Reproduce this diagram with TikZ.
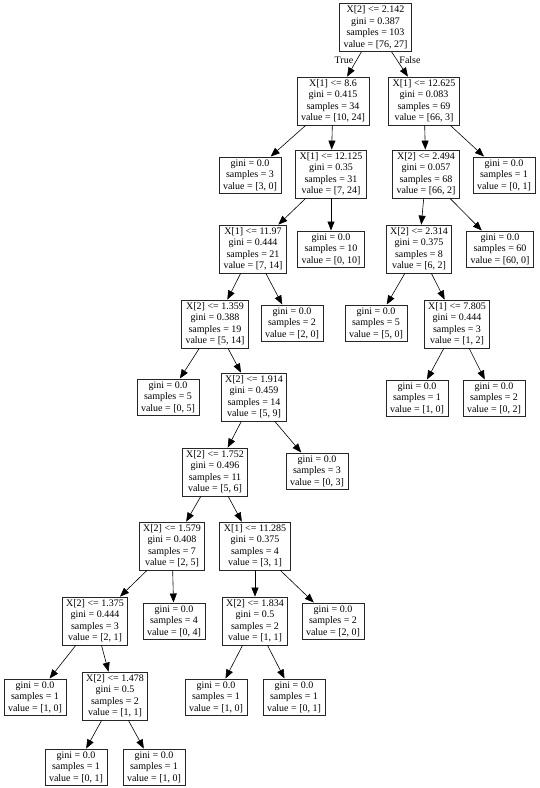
\documentclass[tikz,border=0pt]{standalone}
\usepackage{fontspec}
\setmainfont{Liberation Serif}
\usetikzlibrary{arrows.meta}
\begin{document}
\begin{tikzpicture}[x=1pt,y=-1pt,
  tnode/.style={draw=black!85,line width=0.8pt,fill=white,align=center,
    font=\fontsize{10}{11.5}\selectfont,inner xsep=4pt,inner ysep=2.5pt},
  edge/.style={draw=black,line width=0.6pt,-{Triangle[length=9pt,width=7pt]}},
  elabel/.style={font=\fontsize{10}{11.5}\selectfont}]
\useasboundingbox[fill=white] (0,0) rectangle (540,788);
\node[tnode] (r) at (375.5,27.5) {X[2] <= 2.142\\gini = 0.387\\samples = 103\\value = [76, 27]};
\node[tnode] (a) at (333,101) {X[1] <= 8.6\\gini = 0.415\\samples = 34\\value = [10, 24]};
\node[tnode] (b) at (424,101) {X[1] <= 12.625\\gini = 0.083\\samples = 69\\value = [66, 3]};
\node[tnode] (a1) at (250,175) {gini = 0.0\\samples = 3\\value = [3, 0]};
\node[tnode] (c) at (331,174) {X[1] <= 12.125\\gini = 0.35\\samples = 31\\value = [7, 24]};
\node[tnode] (d) at (426,174) {X[2] <= 2.494\\gini = 0.057\\samples = 68\\value = [66, 2]};
\node[tnode] (b1) at (504,175) {gini = 0.0\\samples = 1\\value = [0, 1]};
\node[tnode] (e) at (253,249) {X[1] <= 11.97\\gini = 0.444\\samples = 21\\value = [7, 14]};
\node[tnode] (c1) at (331,249) {gini = 0.0\\samples = 10\\value = [0, 10]};
\node[tnode] (f) at (419,249) {X[2] <= 2.314\\gini = 0.375\\samples = 8\\value = [6, 2]};
\node[tnode] (d1) at (500,249) {gini = 0.0\\samples = 60\\value = [60, 0]};
\node[tnode] (g) at (215,324) {X[2] <= 1.359\\gini = 0.388\\samples = 19\\value = [5, 14]};
\node[tnode] (e1) at (292,323) {gini = 0.0\\samples = 2\\value = [2, 0]};
\node[tnode] (f1) at (376,323) {gini = 0.0\\samples = 5\\value = [5, 0]};
\node[tnode] (h) at (457,324) {X[1] <= 7.805\\gini = 0.444\\samples = 3\\value = [1, 2]};
\node[tnode] (g1) at (168,397) {gini = 0.0\\samples = 5\\value = [0, 5]};
\node[tnode] (i) at (254,397) {X[2] <= 1.914\\gini = 0.459\\samples = 14\\value = [5, 9]};
\node[tnode] (h1) at (417,398) {gini = 0.0\\samples = 1\\value = [1, 0]};
\node[tnode] (h2) at (494,398) {gini = 0.0\\samples = 2\\value = [0, 2]};
\node[tnode] (j) at (215,472) {X[2] <= 1.752\\gini = 0.496\\samples = 11\\value = [5, 6]};
\node[tnode] (i1) at (317,471) {gini = 0.0\\samples = 3\\value = [0, 3]};
\node[tnode] (k) at (172,546) {X[2] <= 1.579\\gini = 0.408\\samples = 7\\value = [2, 5]};
\node[tnode] (l) at (255,546) {X[1] <= 11.285\\gini = 0.375\\samples = 4\\value = [3, 1]};
\node[tnode] (m) at (95,621) {X[2] <= 1.375\\gini = 0.444\\samples = 3\\value = [2, 1]};
\node[tnode] (k1) at (174,621) {gini = 0.0\\samples = 4\\value = [0, 4]};
\node[tnode] (n) at (255,621) {X[2] <= 1.834\\gini = 0.5\\samples = 2\\value = [1, 1]};
\node[tnode] (l1) at (333,621) {gini = 0.0\\samples = 2\\value = [2, 0]};
\node[tnode] (m1) at (35,697) {gini = 0.0\\samples = 1\\value = [1, 0]};
\node[tnode] (o) at (115,696) {X[2] <= 1.478\\gini = 0.5\\samples = 2\\value = [1, 1]};
\node[tnode] (n1) at (216,697) {gini = 0.0\\samples = 1\\value = [1, 0]};
\node[tnode] (n2) at (294,697) {gini = 0.0\\samples = 1\\value = [0, 1]};
\node[tnode] (o1) at (76,767) {gini = 0.0\\samples = 1\\value = [0, 1]};
\node[tnode] (o2) at (154,767) {gini = 0.0\\samples = 1\\value = [1, 0]};
\foreach \p/\c in {r/a,r/b,a/a1,a/c,b/d,b/b1,c/e,c/c1,d/f,d/d1,e/g,e/e1,f/f1,f/h,
  g/g1,g/i,h/h1,h/h2,i/j,i/i1,j/k,j/l,k/m,k/k1,l/n,l/l1,m/m1,m/o,n/n1,n/n2,o/o1,o/o2}
  \draw[edge] (\p) -- (\c);
\node[elabel] (tl) at (344,60) {True};
\node[elabel] (fl) at (410,60) {False};
\end{tikzpicture}
\end{document}
